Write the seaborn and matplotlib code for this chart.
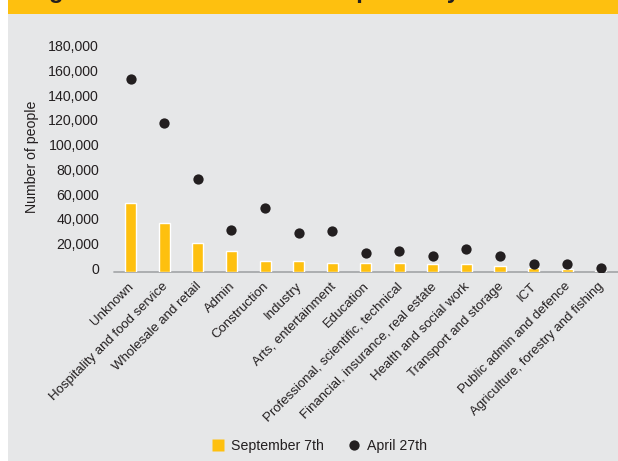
import matplotlib
matplotlib.use("Agg")
import matplotlib.pyplot as plt
import matplotlib.transforms as mtransforms
from matplotlib.patches import Rectangle
from matplotlib.lines import Line2D
import seaborn as sns
import pandas as pd

# Pandemic payment recipients by sector
sectors = [
    "Unknown", "Hospitality and food service", "Wholesale and retail", "Admin",
    "Construction", "Industry", "Arts, entertainment", "Education",
    "Professional, scientific, technical", "Financial, insurance, real estate",
    "Health and social work", "Transport and storage", "ICT",
    "Public admin and defence", "Agriculture, forestry and fishing",
]
september_7th = [55800, 39600, 23400, 17000, 8900, 8900, 7500, 7500,
                 7500, 6700, 6700, 4900, 3300, 2400, 1000]
april_27th = [156300, 120500, 75200, 34000, 51500, 31500, 32900, 15600,
              17000, 12900, 18300, 12900, 6200, 6200, 3600]
y_ticks = list(range(0, 180001, 20000))
series_names = ["September 7th", "April 27th"]
title = "Figure 2: Number of PUP recipients by sector"

YELLOW = "#FEC00F"
DARK = "#231F20"
PANEL = "#E6E7E8"
TEXT = "#231F20"

sns.set_style("white")
plt.rcParams["font.family"] = ["Liberation Sans", "DejaVu Sans"]
plt.rcParams["text.color"] = TEXT

W, H = 618, 461
fig = plt.figure(figsize=(W / 100, H / 100), dpi=100)
fig.patch.set_facecolor("white")

# grey panel and yellow title banner, kept behind the axes
fig.patches.append(Rectangle((8 / W, 0), (W - 8) / W, 1, transform=fig.transFigure,
                             facecolor=PANEL, edgecolor="none", zorder=-2))
fig.patches.append(Rectangle((8 / W, 1 - 13.7 / H), (W - 8) / W, 13.7 / H,
                             transform=fig.transFigure, facecolor=YELLOW,
                             edgecolor="none", zorder=-1))
fig.text(28 / W, 1 + 2.2 / H, title, fontsize=17, fontweight="bold",
         color=TEXT, ha="left", va="baseline", zorder=-0.5)

ax_left, ax_right, ax_bottom, ax_top = 114, 617.5, 272, 49.4
ax = fig.add_axes([ax_left / W, (H - ax_bottom) / H,
                   (ax_right - ax_left) / W, (ax_bottom - ax_top) / H])
ax.set_zorder(1)
ax.patch.set_alpha(0)

df = pd.DataFrame({"sector": sectors, "sept": september_7th, "april": april_27th})

sns.barplot(data=df, x="sector", y="sept", color=YELLOW, saturation=1,
            width=0.33, errorbar=None, ax=ax)
sns.stripplot(data=df, x="sector", y="april", jitter=False, size=7.4,
              color=DARK, linewidth=0, ax=ax)

ax.set_xlim(-0.5, len(sectors) - 0.5)
ax.set_ylim(0, 180000)
for s in ax.spines.values():
    s.set_visible(False)
ax.axhline(0, color="#A7A9AC", linewidth=1.3, clip_on=False, zorder=0.5)

ax.set_yticks(y_ticks, [f"{v:,}" for v in y_ticks])
ax.tick_params(axis="y", length=0, pad=10.8, labelsize=10.2, labelcolor=TEXT)
ax.set_xticks(range(len(sectors)), sectors, rotation=45, ha="right",
              va="center", rotation_mode="anchor")
ax.tick_params(axis="x", length=0, pad=9.0, labelsize=9.5, labelcolor=TEXT)
ax.set_xlabel("")
ax.set_ylabel("")

up = mtransforms.ScaledTranslation(0, 0.038, fig.dpi_scale_trans)
for lab in ax.get_yticklabels():
    lab.set_transform(lab.get_transform() + up)
right = mtransforms.ScaledTranslation(0.015, 0, fig.dpi_scale_trans)
for lab in ax.get_xticklabels():
    lab.set_transform(lab.get_transform() + right)

fig.text(31.7 / W, 1 - 157 / H, "Number of people", rotation=90,
         ha="center", va="center", fontsize=10.2, color=TEXT)

handles = [
    Line2D([], [], marker="s", linestyle="none", markersize=8.8,
           markerfacecolor=YELLOW, markeredgecolor="none"),
    Line2D([], [], marker="o", linestyle="none", markersize=7.4,
           markerfacecolor=DARK, markeredgecolor="none"),
]
fig.legend(handles, series_names, loc="center", ncol=2, frameon=False,
           bbox_to_anchor=(319 / W, 1 - 446 / H), fontsize=10.2,
           handlelength=1.0, handletextpad=0.45, columnspacing=1.6)

fig.savefig("out.png", dpi=100)
